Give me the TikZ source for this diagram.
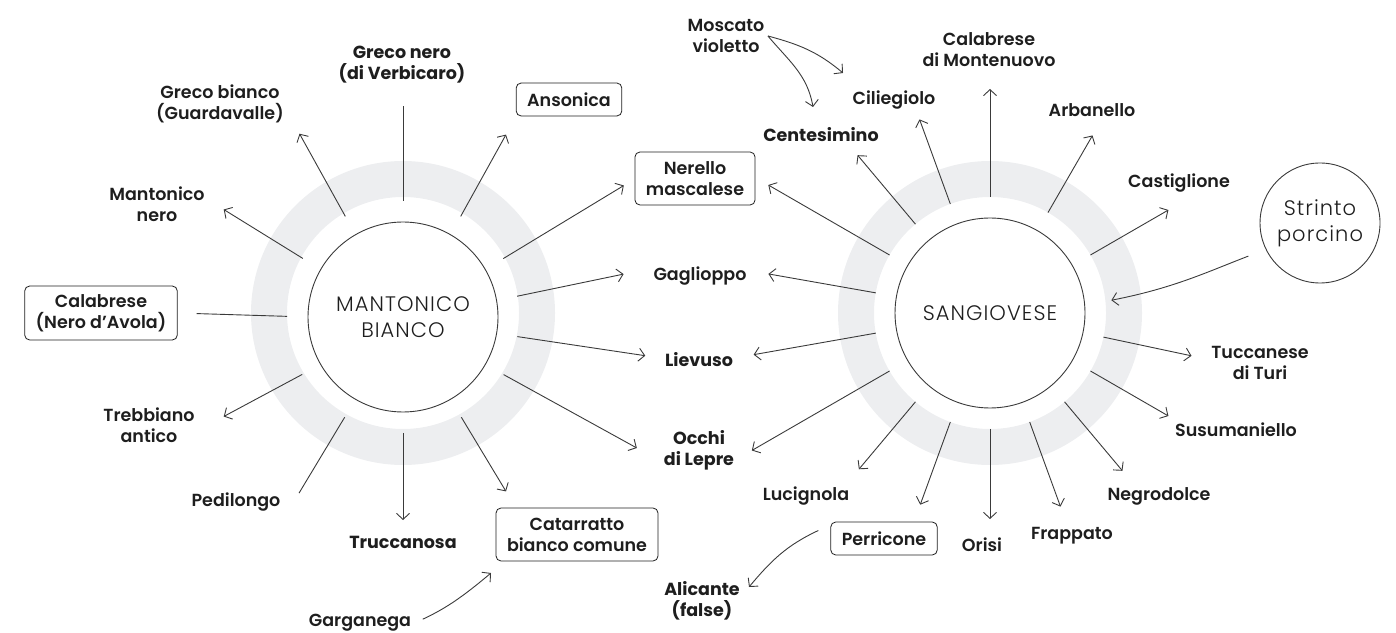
\documentclass[tikz,border=0pt]{standalone}
\usepackage{fontspec}
\setmainfont{Poppins}[UprightFont={* SemiBold}, BoldFont={* Bold}]
\newfontfamily\lightfont{Poppins Light}[LetterSpace=5]
\usetikzlibrary{arrows.meta, calc, positioning}
\definecolor{ink}{HTML}{1E1E1E}
\definecolor{linegray}{HTML}{3A3A3A}
\definecolor{ringgray}{HTML}{EDEEF0}
\tikzstyle{line} = [draw=linegray, line width=0.9pt, -{Straight Barb[length=6pt,width=13pt]}, shorten <=21pt]
\tikzstyle{plain} = [draw=linegray, line width=0.9pt, shorten <=21pt]
\tikzstyle{curve} = [draw=linegray, line width=0.9pt, -{Straight Barb[length=6pt,width=13pt]}]
\tikzstyle{hub} = [circle, draw=linegray, line width=0.9pt, minimum size=190pt, inner sep=0pt, outer sep=0pt, align=center, font=\lightfont\fontsize{21}{26}\selectfont]
\tikzstyle{grape} = [align=center, font=\fontsize{17.5}{21}\selectfont]
\tikzstyle{grapebold} = [align=center, font=\fontsize{17.5}{21}\selectfont\bfseries]
\tikzstyle{box} = [grape, rectangle, draw=ink, line width=0.8pt, rounded corners=5pt, inner xsep=11pt, minimum height=33pt]

\begin{document}
\begin{tikzpicture}[x=1pt, y=1pt, text=ink]
\useasboundingbox (0,0) rectangle (1396,632);
\coordinate (lc) at (403,319);
\coordinate (rc) at (990,319);
\draw [ringgray, line width=36pt] (lc) circle (134pt);
\draw [ringgray, line width=36pt] (rc) circle (134pt);
\node [hub, yshift=-4pt] (mant) at (lc) {MANTONICO\\BIANCO};
\node [hub] (sang) at (rc) {SANGIOVESE};
\node [hub, minimum size=120pt] (strinto) at (1320,409) {Strinto\\porcino};

% Mantonico bianco
\node [grapebold] (gnero) at (402,567) {Greco nero\\(di Verbicaro)};
\node [grape] (gbianco) at (220,528) {Greco bianco\\(Guardavalle)};
\node [grape] (mnero) at (157,428) {Mantonico\\nero};
\node [box, minimum height=54pt] (calabrese) at (101,319) {Calabrese\\(Nero d’Avola)};
\node [grape] (trebbiano) at (149,207) {Trebbiano\\antico};
\node [grape] (pedilongo) at (236,130) {Pedilongo};
\node [grapebold] (truccanosa) at (403,90) {Truccanosa};
\node [box, minimum height=53pt] (catarratto) at (577,97.5) {Catarratto\\bianco comune};
\node [grape] (garganega) at (360,9) {Garganega};
\node [box] (ansonica) at (569,532.5) {Ansonica};

% shared
\node [box, minimum height=53pt] (nerello) at (695,453.5) {Nerello\\mascalese};
\node [grape] (gaglioppo) at (700,356) {Gaglioppo};
\node [grapebold] (lievuso) at (699,272) {Lievuso};
\node [grapebold] (occhi) at (699,182) {Occhi\\di Lepre};

% Sangiovese
\node [grape] (lucignola) at (806,136) {Lucignola};
\node [box] (perricone) at (884,93.5) {Perricone};
\node [grapebold] (alicante) at (702,31) {Alicante\\(false)};
\node [grape] (moscato) at (726,596) {Moscato\\violetto};
\node [grapebold] (centesimino) at (821,497) {Centesimino};
\node [grape] (ciliegiolo) at (894,532) {Ciliegiolo};
\node [grape] (calmont) at (989,582) {Calabrese\\di Montenuovo};
\node [grape] (arbanello) at (1092,522) {Arbanello};
\node [grape] (castiglione) at (1179,449) {Castiglione};
\node [grape] (tuccanese) at (1260,269) {Tuccanese\\di Turi};
\node [grape] (susumaniello) at (1236,202) {Susumaniello};
\node [grape] (negrodolce) at (1159,136) {Negrodolce};
\node [grape] (frappato) at (1072,96) {Frappato};
\node [grape] (orisi) at (982,87) {Orisi};

% tips
\coordinate (gnero-t) at ($(lc)+(90:207)$);
\coordinate (gbianco-t) at ($(lc)+(120:207)$);
\coordinate (mnero-t) at ($(lc)+(150:207)$);
\coordinate (trebbiano-t) at ($(lc)+(210:207)$);
\coordinate (pedilongo-t) at ($(lc)+(240:208)$);
\coordinate (truccanosa-t) at ($(lc)+(270:207)$);
\coordinate (catarratto-t) at ($(lc)+(300:206)$);
\coordinate (occhi-lt) at ($(lc)+(330:270)$);
\coordinate (lievuso-lt) at ($(lc)+(350:246)$);
\coordinate (gaglioppo-lt) at ($(lc)+(10:224)$);
\coordinate (nerello-lt) at ($(lc)+(30:255)$);
\coordinate (ansonica-t) at ($(lc)+(60:206)$);
\coordinate (calmont-t) at ($(rc)+(90:224)$);
\coordinate (arbanello-t) at ($(rc)+(60:205)$);
\coordinate (castiglione-t) at ($(rc)+(30:206)$);
\coordinate (strinto-t) at ($(rc)+(6:122)$);
\coordinate (tuccanese-t) at ($(rc)+(348:206)$);
\coordinate (susumaniello-t) at ($(rc)+(330:206)$);
\coordinate (negrodolce-t) at ($(rc)+(310:206)$);
\coordinate (frappato-t) at ($(rc)+(290:206)$);
\coordinate (orisi-t) at ($(rc)+(270:206)$);
\coordinate (perricone-t) at ($(rc)+(250:204)$);
\coordinate (lucignola-t) at ($(rc)+(230:204)$);
\coordinate (occhi-rt) at ($(rc)+(210:275)$);
\coordinate (lievuso-rt) at ($(rc)+(190:240)$);
\coordinate (gaglioppo-rt) at ($(rc)+(170:225)$);
\coordinate (nerello-rt) at ($(rc)+(150:256)$);
\coordinate (centesimino-t) at ($(rc)+(130:206)$);
\coordinate (ciliegiolo-t) at ($(rc)+(110:206)$);
\coordinate (gargcat-t) at (491,59);
\coordinate (alicante-t) at (749,45);
\coordinate (moscil-t) at (843,559);
\coordinate (moscent-t) at (813,525);

\path [plain] (mant.90) -- (gnero-t);
\path [line] (mant.120) -- (gbianco-t);
\path [line] (mant.150) -- (mnero-t);
\path [plain, shorten >=19pt] (mant.180) -- (calabrese.east);
\path [line] (mant.210) -- (trebbiano-t);
\path [plain] (mant.240) -- (pedilongo-t);
\path [line] (mant.270) -- (truccanosa-t);
\path [line] (mant.300) -- (catarratto-t);
\path [line] (mant.330) -- (occhi-lt);
\path [line] (mant.350) -- (lievuso-lt);
\path [line] (mant.10) -- (gaglioppo-lt);
\path [line] (mant.30) -- (nerello-lt);
\path [line] (mant.60) -- (ansonica-t);
\path [curve, shorten <=9pt] (garganega.east) to[out=25, in=220] (gargcat-t);

\path [line] (sang.90) -- (calmont-t);
\path [line] (sang.60) -- (arbanello-t);
\path [line] (sang.30) -- (castiglione-t);
\path [line] (sang.348) -- (tuccanese-t);
\path [line] (sang.330) -- (susumaniello-t);
\path [line] (sang.310) -- (negrodolce-t);
\path [line] (sang.290) -- (frappato-t);
\path [line] (sang.270) -- (orisi-t);
\path [line] (sang.250) -- (perricone-t);
\path [line] (sang.230) -- (lucignola-t);
\path [line] (sang.210) -- (occhi-rt);
\path [line] (sang.190) -- (lievuso-rt);
\path [line] (sang.170) -- (gaglioppo-rt);
\path [line] (sang.150) -- (nerello-rt);
\path [line] (sang.130) -- (centesimino-t);
\path [line] (sang.110) -- (ciliegiolo-t);
\path [curve, shorten <=19pt] (strinto.206) to[out=201, in=11] (strinto-t);
\path [curve] ([xshift=-12pt, yshift=8pt]perricone.west) to[out=205, in=50] (alicante-t);
\path [curve] (moscato.east) to[out=-15, in=140] (moscil-t);
\path [curve] (moscato.east) to[out=-50, in=100] (moscent-t);
\end{tikzpicture}
\end{document}
